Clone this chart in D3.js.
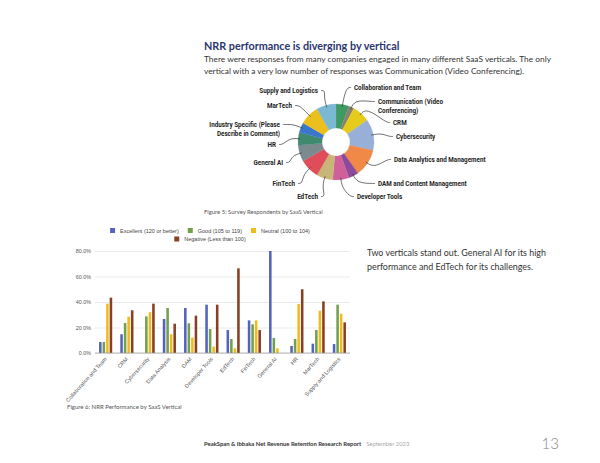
<!DOCTYPE html>
<html>
<head>
<meta charset="utf-8">
<script src="https://cdn.jsdelivr.net/npm/d3@7"></script>
<style>
  html, body { margin: 0; padding: 0; background: #fff; }
  svg { display: block; }
</style>
</head>
<body>
<script>
var pieLabels = ["Collaboration and Team", "Communication (Video|Conferencing)", "CRM", "Cybersecurity",
    "Data Analytics and Management", "DAM and Content Management", "Developer Tools", "EdTech",
    "FinTech", "General AI", "HR", "Industry Specific (Please|Describe in Comment)", "MarTech",
    "Supply and Logistics"];
var pieValues = [20, 8, 27, 48, 42, 15, 25, 25, 30, 25, 20, 15, 30, 30];
var pieColors = ["#3f9a62", "#8a8070", "#e6cc1a", "#98b0d8", "#f08848", "#8b4a9c", "#d0609a", "#c8b678",
    "#df4d5b", "#7b8a8f", "#3f8a6e", "#3a76cc", "#ebbf1c", "#7ab8d4"];

// bars: NRR performance by vertical
var barCategories = ["Collaboration and Team", "CRM", "Cybersecurity", "Data Analysis", "DAM",
    "Developer Tools", "EdTech", "FinTech", "General AI", "HR", "MarTech", "Supply and Logistics"];
var barSeries = ["Excellent (120 or better)", "Good (105 to 119)", "Neutral (100 to 104)", "Negative (Less than 100)"];
var excellent = [8.6, 14.7, 0, 26.7, 35.3, 37.9, 18, 25.6, 80, 5.5, 7.3, 7];
var good = [8.6, 23.5, 28.7, 35.3, 23.3, 18.8, 11, 22.5, 11.8, 11, 18, 37.9];
var neutral = [38.7, 28.5, 32, 14.7, 12, 5, 3.7, 25.6, 3.7, 38.4, 33.2, 30.8];
var negative = [43.4, 33.5, 38.7, 23, 29.3, 37.9, 66.4, 18, 0, 50, 40.5, 24];
var barTicks = [0, 20, 40, 60, 80];
var barColors = ["#5464be", "#72a04c", "#f2bb1c", "#8a3f22"];

// page geometry
var p = {
    width: 600,
    height: 463,
    left: 204,
    pieCx: 336, pieCy: 142, pieR: 38, pieInner: 14,
    plotL: 95, plotR: 350, plotT: 251, plotB: 353
};

var svg = d3.select("body").append("svg").attr("width", p.width).attr("height", p.height);

// heading and intro text
svg.append("text").attr("x", p.left).attr("y", 49.5)
    .style("font", "bold 10.8px Lato").style("fill", "#2b3670")
    .text("NRR performance is diverging by vertical");
var intro = ["There were responses from many companies engaged in many different SaaS verticals. The only",
    "vertical with a very low number of responses was Communication (Video Conferencing)."];
intro.forEach(function(t, i) {
    svg.append("text").attr("x", p.left).attr("y", 61.5 + i * 12)
        .style("font", "8.35px Lato").style("fill", "#333").text(t);
});

// donut
var pie = d3.pie().sort(null).value(function(d) { return d; });
var arcs = pie(pieValues);
var arc = d3.arc().innerRadius(p.pieInner).outerRadius(p.pieR);
var pieG = svg.append("g").attr("transform", "translate(" + p.pieCx + "," + p.pieCy + ")");
pieG.selectAll("path").data(arcs).enter().append("path")
    .attr("d", arc)
    .style("fill", function(d, i) { return pieColors[i]; })
    .style("stroke", function(d, i) { return pieColors[i]; })
    .style("stroke-width", 0.3);

// where each donut label sits (text anchor point, page coords)
var labelPos = [[354, 90], [378, 104], [393, 125], [396, 139], [394, 162], [378, 186], [357, 199],
    [318, 199], [295, 186], [283, 165], [276, 147], [280, 127], [292, 108], [318, 93]];

arcs.forEach(function(a, i) {
    var mid = (a.startAngle + a.endAngle) / 2;
    var right = mid < Math.PI;
    var lx = labelPos[i][0], ly = labelPos[i][1];
    var ex = p.pieCx + Math.sin(mid) * (p.pieR - 2), ey = p.pieCy - Math.cos(mid) * (p.pieR - 2);
    var kx = p.pieCx + Math.sin(mid) * (p.pieR + 8), ky = p.pieCy - Math.cos(mid) * (p.pieR + 8);
    var sx = right ? lx - 3 : lx + 3;
    var line = d3.line().curve(d3.curveBasis);
    svg.append("path")
        .attr("d", line([[sx, ly - 2.5], [sx + (right ? -4 : 4), ly - 2.5], [kx, ky], [ex, ey]]))
        .style("fill", "none").style("stroke", "#333").style("stroke-width", 0.7);
    var parts = pieLabels[i].split("|");
    var t = svg.append("text").attr("x", lx).attr("y", ly)
        .attr("text-anchor", right ? "start" : "end")
        .style("font", "bold 6.3px Roboto").style("fill", "#222");
    parts.forEach(function(s, j) {
        t.append("tspan").attr("x", lx).attr("dy", j === 0 ? 0 : 8.5).text(s);
    });
});

svg.append("text").attr("x", p.left).attr("y", 214)
    .style("font", "5.9px Lato").style("fill", "#555")
    .text("Figure 5: Survey Respondents by SaaS Vertical");

// bar chart
var seriesValues = [excellent, good, neutral, negative];
var x0 = d3.scaleBand().domain(barCategories).range([p.plotL, p.plotR]).paddingInner(0.38).paddingOuter(0.19);
var x1 = d3.scaleBand().domain(d3.range(barSeries.length)).range([0, x0.bandwidth()]).paddingInner(0.28);
var y = d3.scaleLinear().domain([0, 80]).range([p.plotB, p.plotT]);

var yAxis = d3.axisLeft(y).tickValues(barTicks).tickSize(-(p.plotR - p.plotL))
    .tickFormat(function(d) { return d3.format(".1f")(d) + "%"; });
var yG = svg.append("g").attr("transform", "translate(" + p.plotL + ",0)").call(yAxis);
yG.select(".domain").remove();
yG.selectAll(".tick line").style("stroke", "#e2e2e2").style("stroke-width", 0.7);
yG.selectAll(".tick text").attr("x", -4)
    .style("font", "5.4px 'Liberation Sans'").style("fill", "#555");

barCategories.forEach(function(c, ci) {
    seriesValues.forEach(function(vals, si) {
        if (!vals[ci]) return;
        svg.append("rect")
            .attr("x", x0(c) + x1(si))
            .attr("y", y(vals[ci]))
            .attr("width", x1.bandwidth())
            .attr("height", y(0) - y(vals[ci]))
            .style("fill", barColors[si]);
    });
});

svg.append("line").attr("x1", p.plotL).attr("x2", p.plotR).attr("y1", y(0)).attr("y2", y(0))
    .style("stroke", "#999").style("stroke-width", 0.7);

var xAxis = d3.axisBottom(x0).tickSize(0);
var xG = svg.append("g").attr("transform", "translate(0," + p.plotB + ")").call(xAxis);
xG.select(".domain").remove();
xG.selectAll(".tick text")
    .attr("text-anchor", "end")
    .attr("transform", "translate(0,5) rotate(-48)")
    .attr("y", 0).attr("dy", "0.35em")
    .style("font", "5.5px 'Liberation Sans'").style("fill", "#555");

// legend, two centred rows
var legendRows = [[0, 1, 2], [3]];
legendRows.forEach(function(row, ri) {
    var g = svg.append("g");
    var cursor = 0;
    row.forEach(function(si) {
        g.append("rect").attr("x", cursor).attr("y", -4.5).attr("width", 5).attr("height", 5)
            .style("fill", barColors[si]);
        var t = g.append("text").attr("x", cursor + 10).attr("y", 0)
            .style("font", "5.5px 'Liberation Sans'").style("fill", "#444").text(barSeries[si]);
        cursor += 10 + t.node().getComputedTextLength() + 9;
    });
    var w = cursor - 9;
    g.attr("transform", "translate(" + (210 - w / 2) + "," + (232.5 + ri * 8.5) + ")");
});

svg.append("text").attr("x", 67).attr("y", 409)
    .style("font", "6px Lato").style("fill", "#555")
    .text("Figure 6: NRR Performance by SaaS Vertical");

// side note
var note = ["Two verticals stand out. General AI for its high", "performance and EdTech for its challenges."];
note.forEach(function(t, i) {
    svg.append("text").attr("x", 367).attr("y", 256 + i * 14)
        .style("font", "8.9px Lato").style("fill", "#333").text(t);
});

// footer
var foot = svg.append("text").attr("x", p.left).attr("y", 446).style("font", "5.9px Lato");
foot.append("tspan").style("font-weight", "bold").style("fill", "#333")
    .text("PeakSpan & Ibbaka Net Revenue Retention Research Report");
foot.append("tspan").attr("dx", 5).style("fill", "#aaa").text("September 2023");
svg.append("text").attr("x", 559).attr("y", 448.5).attr("text-anchor", "end")
    .style("font", "300 15px Lato").style("fill", "#888").text("13");
</script>
</body>
</html>
